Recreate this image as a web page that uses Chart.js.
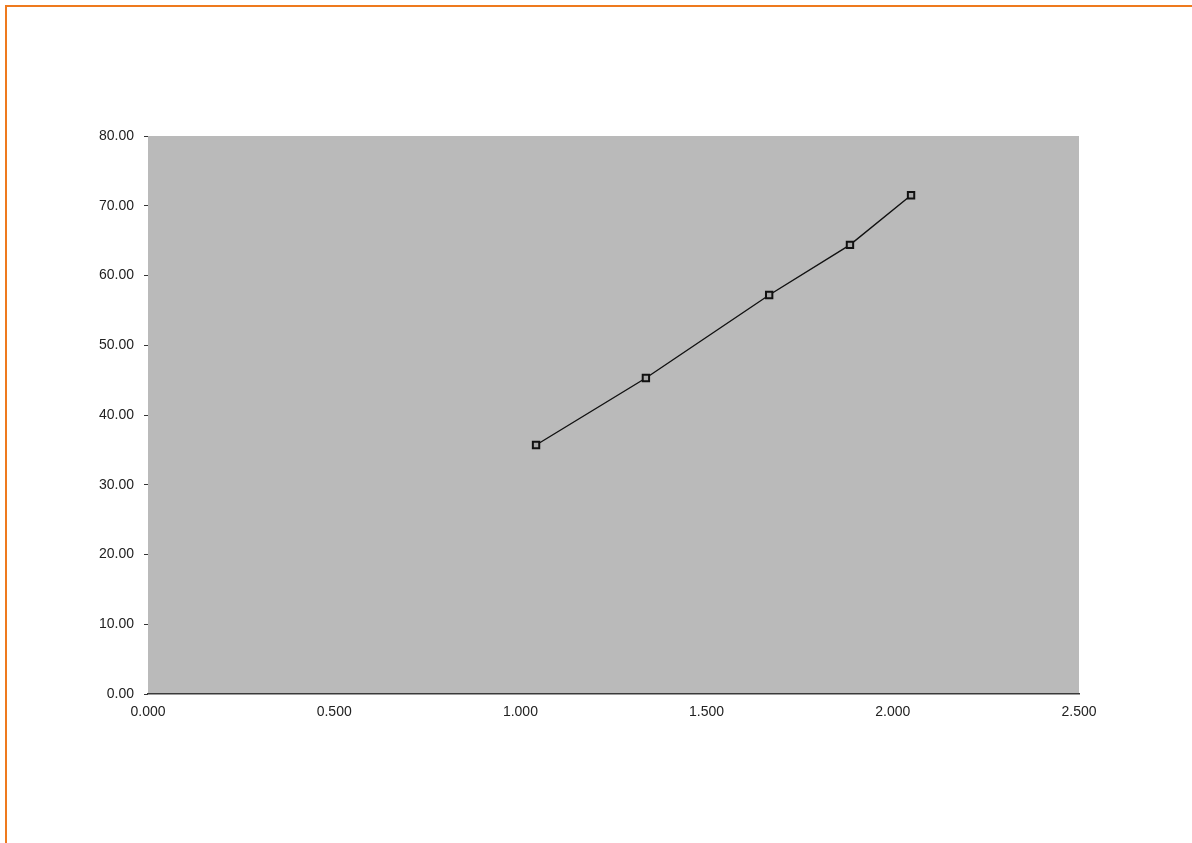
<!DOCTYPE html>
<html>
<head>
<meta charset="utf-8">
<script src="https://cdn.jsdelivr.net/npm/chart.js@4"></script>
<style>
html,body{margin:0;padding:0;background:#fff;overflow:hidden;}
#frame{position:absolute;left:5px;top:5px;width:1300px;height:1000px;border-left:2px solid #ee7a1e;border-top:2px solid #ee7a1e;}
#wrap{position:absolute;left:0;top:0;width:1192px;height:843px;}
</style>
</head>
<body>
<div id="frame"></div>
<div id="wrap"><canvas id="c" width="1192" height="843"></canvas></div>
<script>
const xValues = [1.042, 1.337, 1.668, 1.885, 2.049];
const yValues = [35.7, 45.3, 57.2, 64.4, 71.5];
const xTicks = [0, 0.5, 1, 1.5, 2, 2.5];
const yTicks = [0, 10, 20, 30, 40, 50, 60, 70, 80];
const points = xValues.map((x, i) => ({x: x, y: yValues[i]}));

const bgPlugin = {
  id: 'plotBg',
  beforeDraw(chart) {
    const {ctx, chartArea: a} = chart;
    ctx.save();
    ctx.fillStyle = '#bababa';
    ctx.fillRect(a.left, a.top, a.right - a.left, a.bottom - a.top);
    ctx.restore();
  }
};

const tickFont = {family: "'Liberation Sans', Arial, sans-serif", size: 14};

new Chart(document.getElementById('c'), {
  type: 'scatter',
  data: {
    datasets: [{
      data: points,
      showLine: true,
      borderColor: '#111',
      borderWidth: 1.4,
      pointStyle: 'rect',
      pointRadius: 4.5,
      pointBorderWidth: 2,
      pointBorderColor: '#111',
      pointBackgroundColor: '#a8a8a8'
    }]
  },
  options: {
    responsive: false,
    animation: false,
    layout: {padding: {left: 0, top: 136, right: 113, bottom: 0}},
    plugins: {legend: {display: false}, tooltip: {enabled: false}},
    scales: {
      x: {
        type: 'linear', min: 0, max: 2.5,
        afterFit(axis) { axis.height = 149; },
        afterBuildTicks(axis) { axis.ticks = xTicks.map(v => ({value: v})); },
        border: {display: true, color: '#3a3a3a', width: 1.5},
        grid: {display: true, drawOnChartArea: false, drawTicks: false, tickLength: 0},
        ticks: {
          padding: 10,
          color: '#222',
          font: tickFont,
          callback: v => Number(v).toFixed(3)
        }
      },
      y: {
        type: 'linear', min: 0, max: 80,
        afterFit(axis) { axis.width = 148; },
        afterBuildTicks(axis) { axis.ticks = yTicks.map(v => ({value: v})); },
        border: {display: false},
        grid: {display: true, drawOnChartArea: false, drawTicks: true, tickLength: 4, color: '#333'},
        ticks: {
          padding: 10,
          color: '#222',
          font: tickFont,
          callback: v => Number(v).toFixed(2)
        }
      }
    }
  },
  plugins: [bgPlugin]
});
</script>
</body>
</html>
